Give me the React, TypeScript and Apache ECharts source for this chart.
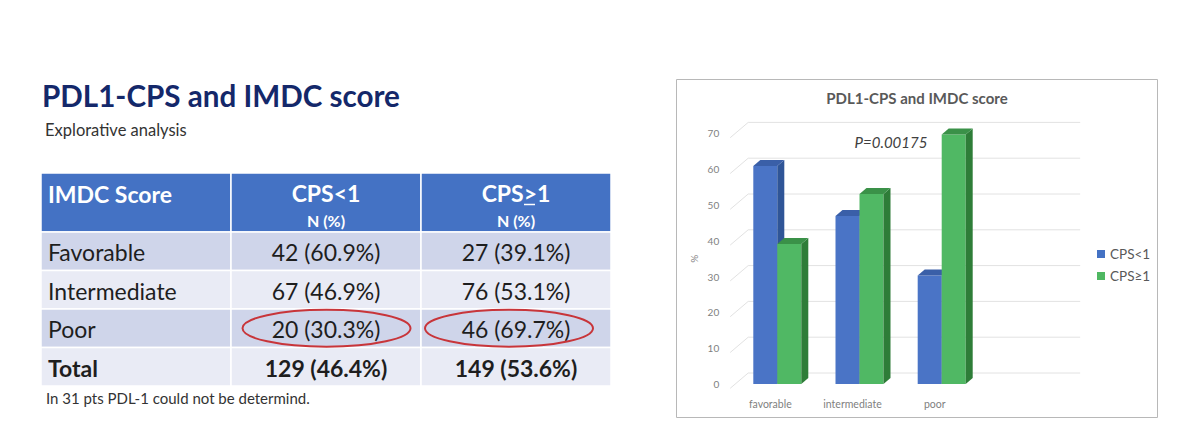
import React, { useEffect, useRef } from "react";
import * as echarts from "echarts";

// ---- data ----
const tableRows = ["Favorable", "Intermediate", "Poor"];
const cpsLowN = [42, 67, 20];
const cpsLowPct = [60.9, 46.9, 30.3];
const cpsHighN = [27, 76, 46];
const cpsHighPct = [39.1, 53.1, 69.7];
const totalN = [129, 149];
const totalPct = [46.4, 53.6];

const categories = ["favorable", "intermediate", "poor"];
const seriesNames = ["CPS<1", "CPS≥1"];
const yTicks = [0, 10, 20, 30, 40, 50, 60, 70];
const pValueText = "P=0.00175";

const FONT = "Lato, 'Noto Sans', sans-serif";

function bar3D(offsetIndex: number, front: string, side: string, top: string) {
  return (params: any, api: any) => {
    const idx = api.value(0);
    const v = api.value(1);
    const pTop = api.coord([idx, v]);
    const pBase = api.coord([idx, 0]);
    const band = api.size([1, 0])[0];
    const w = band * 0.292;
    const cx = pTop[0];
    const yTop = pTop[1];
    const yBase = pBase[1];
    const x0 = cx - w + offsetIndex * w;
    const dx = 7;
    const dy = -6;
    return {
      type: "group",
      children: [
        {
          type: "rect",
          shape: { x: x0, y: yTop, width: w, height: yBase - yTop },
          style: { fill: front },
        },
        {
          type: "polygon",
          shape: {
            points: [
              [x0 + w, yTop],
              [x0 + w + dx, yTop + dy],
              [x0 + w + dx, yBase + dy],
              [x0 + w, yBase],
            ],
          },
          style: { fill: side },
        },
        {
          type: "polygon",
          shape: {
            points: [
              [x0, yTop],
              [x0 + dx, yTop + dy],
              [x0 + w + dx, yTop + dy],
              [x0 + w, yTop],
            ],
          },
          style: { fill: top },
        },
      ],
    };
  };
}

function buildTable() {
  const colX = [41, 231, 421, 611];
  const headerTop = 173;
  const headerH = 59;
  const rowH = 38.5;
  const rowFills = ["#cfd5ea", "#e9ebf5", "#cfd5ea", "#e9ebf5"];
  const els: any[] = [];
  for (let c = 0; c < 3; c++) {
    els.push({
      type: "rect",
      shape: { x: colX[c], y: headerTop, width: colX[c + 1] - colX[c], height: headerH },
      style: { fill: "#4472c4", stroke: "#ffffff", lineWidth: 1.5 },
    });
  }
  const colCenter = (c: number) => (colX[c] + colX[c + 1]) / 2;
  els.push({
    type: "text",
    style: { text: "IMDC Score", x: 48, y: 194, fill: "#ffffff", font: `bold 23px ${FONT}`, verticalAlign: "middle" },
  });
  const heads = ["CPS<1", "CPS>1"];
  heads.forEach((h, i) => {
    const cx = colCenter(i + 1);
    els.push({
      type: "text",
      style: { text: h, x: cx, y: 193, fill: "#ffffff", font: `bold 23px ${FONT}`, align: "center", verticalAlign: "middle" },
    });
    els.push({
      type: "text",
      style: { text: "N (%)", x: cx, y: 220, fill: "#ffffff", font: `bold 16px ${FONT}`, align: "center", verticalAlign: "middle" },
    });
  });
  const c2 = colCenter(2);
  els.push({
    type: "line",
    shape: { x1: c2 + 8, y1: 204.5, x2: c2 + 19, y2: 204.5 },
    style: { stroke: "#ffffff", lineWidth: 1.5 },
  });

  const bodyRows = tableRows.map((name, i) => ({
    name,
    a: `${cpsLowN[i]} (${cpsLowPct[i].toFixed(1)}%)`,
    b: `${cpsHighN[i]} (${cpsHighPct[i].toFixed(1)}%)`,
    bold: false,
  }));
  bodyRows.push({
    name: "Total",
    a: `${totalN[0]} (${totalPct[0].toFixed(1)}%)`,
    b: `${totalN[1]} (${totalPct[1].toFixed(1)}%)`,
    bold: true,
  });
  bodyRows.forEach((r, i) => {
    const y = headerTop + headerH + i * rowH;
    for (let c = 0; c < 3; c++) {
      els.push({
        type: "rect",
        shape: { x: colX[c], y, width: colX[c + 1] - colX[c], height: rowH },
        style: { fill: rowFills[i], stroke: "#ffffff", lineWidth: 1.5 },
      });
    }
    const weight = r.bold ? "bold " : "";
    const cy = y + rowH / 2 + 1;
    const fs = 23;
    els.push({
      type: "text",
      style: { text: r.name, x: 48, y: cy, fill: "#1e1e1e", font: `${weight}${fs}px ${FONT}`, verticalAlign: "middle" },
    });
    els.push({
      type: "text",
      style: { text: r.a, x: colCenter(1), y: cy, fill: "#1e1e1e", font: `${weight}${fs}px ${FONT}`, align: "center", verticalAlign: "middle" },
    });
    els.push({
      type: "text",
      style: { text: r.b, x: colCenter(2), y: cy, fill: "#1e1e1e", font: `${weight}${fs}px ${FONT}`, align: "center", verticalAlign: "middle" },
    });
  });
  const poorY = headerTop + headerH + 2 * rowH + rowH / 2;
  [colCenter(1) + 0.5, colCenter(2) - 7].forEach((cx) => {
    els.push({
      type: "ellipse",
      shape: { cx, cy: poorY, rx: 84, ry: 18.5 },
      style: { fill: "none", stroke: "#c8353a", lineWidth: 2 },
      z: 10,
    });
  });
  return els;
}

export default function App() {
  const ref = useRef<HTMLDivElement>(null);
  useEffect(() => {
    if (!ref.current) return;
    const chart = echarts.init(ref.current, null, { renderer: "svg" });
    const option: any = {
      animation: false,
      backgroundColor: "#ffffff",
      textStyle: { fontFamily: FONT },
      graphic: [
        {
          type: "text",
          style: { text: "PDL1-CPS and IMDC score", x: 42, y: 95, fill: "#14286a", font: `bold 29.6px ${FONT}`, verticalAlign: "middle" },
        },
        {
          type: "text",
          style: { text: "Explorative analysis", x: 45, y: 130, fill: "#333333", font: `16.5px ${FONT}`, verticalAlign: "middle" },
        },
        {
          type: "text",
          style: { text: "In 31 pts PDL-1 could not be determind.", x: 46, y: 398, fill: "#333333", font: `15px ${FONT}`, verticalAlign: "middle" },
        },
        ...buildTable(),
        {
          type: "rect",
          shape: { x: 676.5, y: 79.5, width: 481, height: 338 },
          style: { fill: "none", stroke: "#b8b8b8", lineWidth: 1 },
          z: -1,
        },
        {
          type: "text",
          style: { text: "PDL1-CPS and IMDC score", x: 917, y: 98, fill: "#595959", font: `bold 15px ${FONT}`, align: "center", verticalAlign: "middle" },
        },
        {
          type: "text",
          style: { text: pValueText, x: 891, y: 142, fill: "#404040", font: `italic 15px ${FONT}`, align: "center", verticalAlign: "middle" },
          z: 10,
        },
      ],
      grid: { left: 736.2, width: 246.6, top: 133.4, bottom: 53 },
      xAxis: {
        type: "category",
        data: categories,
        axisLine: { show: false },
        axisTick: { show: false },
        axisLabel: { color: "#7f7f7f", fontSize: 10.5, margin: 14, padding: [0, 14, 0, 0] },
      },
      yAxis: {
        type: "value",
        min: 0,
        max: 70,
        interval: 10,
        name: "%",
        nameLocation: "middle",
        nameGap: 37,
        nameRotate: 90,
        nameTextStyle: { color: "#7f7f7f", fontSize: 10 },
        axisLine: { show: false },
        axisTick: { show: false },
        splitLine: { show: false },
        axisLabel: { color: "#7f7f7f", fontSize: 10, margin: 17, padding: [9, 0, 0, 0] },
      },
      legend: {
        orient: "vertical",
        left: 1092,
        top: 242,
        itemWidth: 8,
        itemHeight: 8,
        itemGap: 8,
        textStyle: { color: "#595959", fontSize: 13.5, lineHeight: 14 },
        data: [
          { name: seriesNames[0], icon: "rect" },
          { name: seriesNames[1], icon: "rect" },
        ],
      },
      series: [
        {
          type: "custom",
          name: "grid",
          silent: true,
          z: 1,
          clip: false,
          data: yTicks.map((v) => [0, v]),
          encode: { x: 0, y: 1 },
          renderItem: (params: any, api: any) => {
            const y = api.coord([0, api.value(1)])[1];
            const cs = params.coordSys;
            return {
              type: "polyline",
              shape: {
                points: [
                  [cs.x - 6, y + 4.3],
                  [cs.x + 12, y - 11],
                  [cs.x + 344, y - 11],
                ],
              },
              style: { stroke: "#e2e2e2", lineWidth: 1, fill: "none" },
            };
          },
        },
        {
          type: "custom",
          name: seriesNames[0],
          z: 2,
          clip: false,
          itemStyle: { color: "#4472c4" },
          data: categories.map((_, i) => [i, cpsLowPct[i]]),
          encode: { x: 0, y: 1 },
          renderItem: bar3D(0, "#4a74c6", "#2f5597", "#3a5fa8"),
        },
        {
          type: "custom",
          name: seriesNames[1],
          z: 3,
          clip: false,
          itemStyle: { color: "#4fb862" },
          data: categories.map((_, i) => [i, cpsHighPct[i]]),
          encode: { x: 0, y: 1 },
          renderItem: bar3D(1, "#50b864", "#2e7d38", "#3a9148"),
        },
      ],
    };
    chart.setOption(option);
    return () => chart.dispose();
  }, []);
  return (
    <div
      ref={ref}
      style={{ position: "fixed", left: 0, top: 0, width: 1200, height: 437 }}
    />
  );
}
